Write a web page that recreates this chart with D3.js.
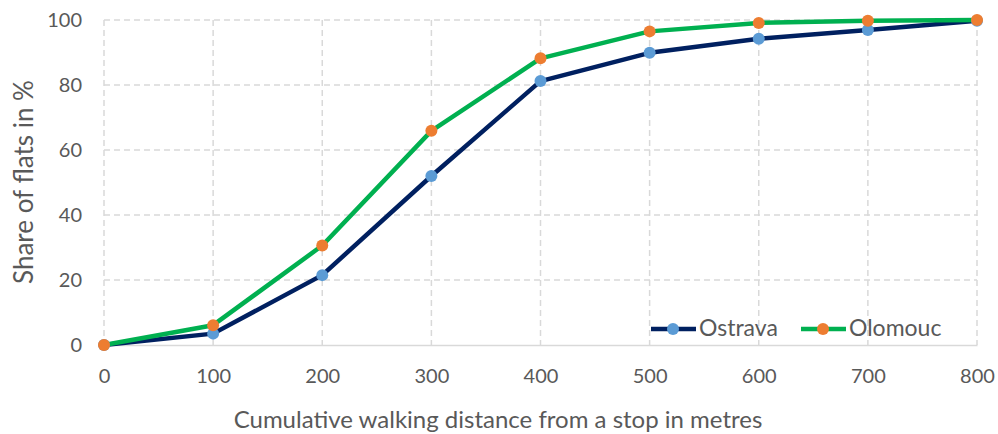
<!DOCTYPE html>
<html>
<head>
<meta charset="utf-8">
<script src="https://cdn.jsdelivr.net/npm/d3@7"></script>
<style>
  body { margin: 0; background: #fff; }
  text { font-family: Lato, "Open Sans", sans-serif; fill: #595959; }
</style>
</head>
<body>
<div id="chart"></div>
<script>
// data
let distances = [0, 100, 200, 300, 400, 500, 600, 700, 800];
let ostrava = [0, 3.5, 21.5, 52, 81.2, 89.9, 94.2, 96.9, 99.8];
let olomouc = [0, 6.1, 30.6, 65.9, 88.2, 96.5, 99.1, 99.8, 100];
let xTicks = [0, 100, 200, 300, 400, 500, 600, 700, 800];
let yTicks = [0, 20, 40, 60, 80, 100];

let svgWidth = 998;
let svgHeight = 434;
let margin = { top: 20, right: 21, bottom: 89, left: 104 };
let width = svgWidth - margin.left - margin.right;
let height = svgHeight - margin.top - margin.bottom;

let svg = d3.select('#chart')
  .append('svg')
  .attr('width', svgWidth)
  .attr('height', svgHeight);

let chartGroup = svg.append('g')
  .attr('transform', `translate(${margin.left},${margin.top})`);

let x = d3.scaleLinear().domain([0, 800]).range([0, width]);
let y = d3.scaleLinear().domain([0, 100]).range([height, 0]);

// dashed gridlines
chartGroup.append('g')
  .selectAll('line')
  .data(yTicks.filter(d => d > 0))
  .enter()
  .append('line')
  .attr('x1', 0).attr('x2', width)
  .attr('y1', d => y(d)).attr('y2', d => y(d))
  .attr('stroke', '#d9d9d9')
  .attr('stroke-width', 1.5)
  .attr('stroke-dasharray', '6,4');

chartGroup.append('g')
  .selectAll('line')
  .data(xTicks)
  .enter()
  .append('line')
  .attr('x1', d => x(d)).attr('x2', d => x(d))
  .attr('y1', 0).attr('y2', height)
  .attr('stroke', '#d9d9d9')
  .attr('stroke-width', 1.5)
  .attr('stroke-dasharray', '6,4');

// axes
let bottomAxis = d3.axisBottom(x).tickValues(xTicks).tickSize(0).tickPadding(24);
let leftAxis = d3.axisLeft(y).tickValues(yTicks).tickSize(0).tickPadding(22);

let xAxis = chartGroup.append('g')
  .attr('transform', `translate(0, ${height})`)
  .call(bottomAxis);
xAxis.select('.domain').attr('stroke', '#d9d9d9').attr('stroke-width', 1.5);

let yAxis = chartGroup.append('g').call(leftAxis);
yAxis.select('.domain').remove();

chartGroup.selectAll('.tick text')
  .attr('font-size', 20)
  .attr('font-family', 'Lato, sans-serif')
  .attr('fill', '#595959');

// lines and markers
let series = [
  { name: 'Ostrava', values: ostrava, line: '#002060', marker: '#5b9bd5' },
  { name: 'Olomouc', values: olomouc, line: '#00b050', marker: '#ed7d31' }
];

let lineGen = d3.line()
  .x((d, i) => x(distances[i]))
  .y(d => y(d));

series.forEach(s => {
  chartGroup.append('path')
    .datum(s.values)
    .attr('fill', 'none')
    .attr('stroke', s.line)
    .attr('stroke-width', 4.5)
    .attr('stroke-linejoin', 'round')
    .attr('d', lineGen);
});

series.forEach(s => {
  chartGroup.append('g')
    .selectAll('circle')
    .data(s.values)
    .enter()
    .append('circle')
    .attr('cx', (d, i) => x(distances[i]))
    .attr('cy', d => y(d))
    .attr('r', 6)
    .attr('fill', s.marker);
});

// legend
let legend = svg.append('g').attr('transform', 'translate(651, 329)');
let legendX = [0, 150];
series.forEach((s, i) => {
  let g = legend.append('g').attr('transform', `translate(${legendX[i]}, 0)`);
  g.append('line')
    .attr('x1', 0).attr('x2', 45)
    .attr('y1', 0).attr('y2', 0)
    .attr('stroke', s.line)
    .attr('stroke-width', 4.5);
  g.append('circle')
    .attr('cx', 22).attr('cy', 0).attr('r', 6)
    .attr('fill', s.marker);
  g.append('text')
    .attr('x', 48)
    .attr('y', 7)
    .attr('font-size', 23)
    .text(s.name);
});

// axis titles
svg.append('text')
  .attr('x', 498)
  .attr('y', 428)
  .attr('text-anchor', 'middle')
  .attr('font-size', 24)
  .text('Cumulative walking distance from a stop in metres');

svg.append('text')
  .attr('transform', 'translate(33, 182) rotate(-90)')
  .attr('text-anchor', 'middle')
  .attr('font-size', 26)
  .text('Share of flats in %');
</script>
</body>
</html>
